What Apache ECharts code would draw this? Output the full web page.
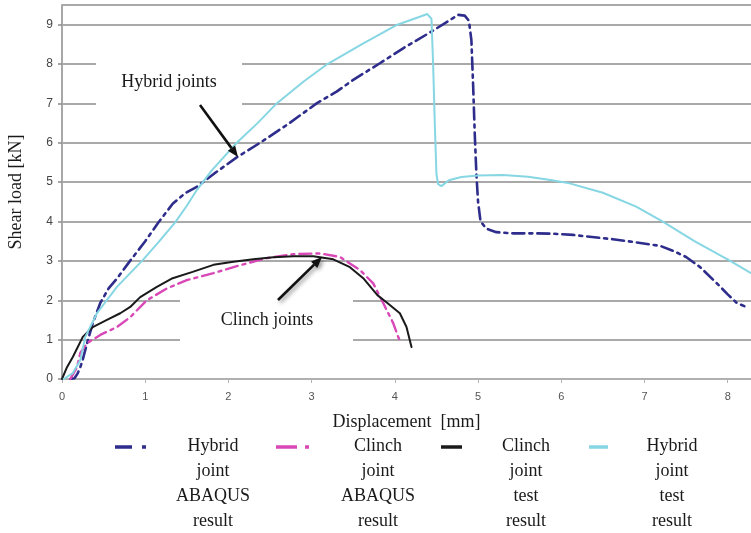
<!DOCTYPE html>
<html>
<head>
<meta charset="utf-8">
<script src="https://cdn.jsdelivr.net/npm/echarts@6/dist/echarts.min.js"></script>
<style>html,body{margin:0;padding:0;background:#fff}#c{width:751px;height:533px}</style>
</head>
<body>
<div id="c"></div>
<script>
// ---- data (displacement mm, shear load kN) ----
const seriesNames = ['Hybrid joint ABAQUS result', 'Clinch joint ABAQUS result', 'Clinch joint test result', 'Hybrid joint test result'];
const legendLines = [['Hybrid','joint','ABAQUS','result'], ['Clinch','joint','ABAQUS','result'], ['Clinch','joint','test','result'], ['Hybrid','joint','test','result']];
const xTicks = [0,1,2,3,4,5,6,7,8];
const yTicks = [0,1,2,3,4,5,6,7,8,9];

const hybridAbaqus = [[0.1,0],[0.15,0.02],[0.19,0.15],[0.22,0.3],[0.25,0.5],[0.3,0.9],[0.37,1.42],[0.46,1.93],[0.56,2.3],[0.66,2.55],[0.8,2.95],[1.0,3.5],[1.16,3.98],[1.33,4.45],[1.48,4.72],[1.62,4.88],[1.85,5.25],[2.1,5.63],[2.38,6.0],[2.7,6.45],[3.06,7.0],[3.3,7.3],[3.5,7.6],[3.82,8.02],[4.1,8.4],[4.42,8.8],[4.65,9.1],[4.76,9.25],[4.84,9.23],[4.89,9.1],[4.92,8.6],[4.94,7.5],[4.96,6.24],[4.98,5.2],[5.0,4.5],[5.03,4.0],[5.1,3.82],[5.22,3.73],[5.42,3.7],[5.66,3.7],[5.9,3.69],[6.14,3.66],[6.4,3.6],[6.62,3.55],[6.9,3.47],[7.19,3.38],[7.35,3.25],[7.5,3.1],[7.67,2.84],[7.87,2.43],[8.0,2.15],[8.11,1.93],[8.2,1.85]];
const clinchAbaqus = [[0.1,0],[0.12,0.05],[0.18,0.3],[0.22,0.66],[0.3,0.91],[0.46,1.12],[0.66,1.32],[0.82,1.57],[1.02,2.0],[1.26,2.3],[1.5,2.51],[1.82,2.69],[2.14,2.89],[2.46,3.07],[2.78,3.17],[3.1,3.19],[3.34,3.1],[3.58,2.77],[3.74,2.43],[3.86,1.93],[3.98,1.42],[4.04,1.07],[4.06,0.98]];
const clinchTest = [[0,0],[0.01,0.05],[0.06,0.3],[0.13,0.56],[0.25,1.07],[0.37,1.32],[0.54,1.5],[0.7,1.67],[0.82,1.83],[0.94,2.08],[1.14,2.34],[1.33,2.56],[1.57,2.72],[1.82,2.9],[2.06,2.98],[2.3,3.04],[2.54,3.09],[2.78,3.12],[3.02,3.12],[3.26,3.04],[3.46,2.84],[3.62,2.56],[3.79,2.13],[3.91,1.93],[4.06,1.67],[4.14,1.32],[4.2,0.81]];
const hybridTest = [[0.02,0],[0.13,0.15],[0.22,0.48],[0.28,1.07],[0.42,1.67],[0.66,2.34],[0.97,3.02],[1.15,3.45],[1.36,3.98],[1.5,4.4],[1.62,4.8],[1.8,5.3],[2.1,6.0],[2.35,6.5],[2.58,7.0],[2.9,7.55],[3.19,8.0],[3.6,8.5],[4.03,9.0],[4.3,9.2],[4.39,9.27],[4.44,9.15],[4.46,8.0],[4.48,6.5],[4.5,5.2],[4.52,4.95],[4.56,4.9],[4.65,5.05],[4.8,5.13],[5.0,5.17],[5.3,5.18],[5.6,5.14],[5.85,5.06],[6.1,4.97],[6.5,4.73],[6.9,4.38],[7.22,4.0],[7.6,3.5],[8.03,3.0],[8.28,2.69]];

// ---- styles ----
const colors = ['#2e2d8c', '#d848b6', '#1a1a1a', '#86d6e3'];
const dashes = [[12,5,3,5], [12,5,3,5], 'solid', 'solid'];
const widths = [2.6, 2.4, 2, 2];
const serif = '"Liberation Serif", "DejaVu Serif", serif';

const chart = echarts.init(document.getElementById('c'), null, {renderer: 'canvas'});
const allData = [hybridAbaqus, clinchAbaqus, clinchTest, hybridTest];

function arrow(x1, y1, x2, y2, shadow) {
  const dx = x2 - x1, dy = y2 - y1, L = Math.hypot(dx, dy);
  const ux = dx / L, uy = dy / L, hl = 11, hw = 4.5;
  const bx = x2 - ux * hl, by = y2 - uy * hl;
  const sh = shadow ? {shadowBlur: 4, shadowColor: 'rgba(0,0,0,0.45)', shadowOffsetX: 2, shadowOffsetY: 2} : {};
  return [
    {type: 'line', z: 20, shape: {x1: x1, y1: y1, x2: bx, y2: by}, style: Object.assign({stroke: '#111', lineWidth: 2.6}, sh)},
    {type: 'polygon', z: 20, shape: {points: [[x2, y2], [bx - uy * hw, by + ux * hw], [bx + uy * hw, by - ux * hw]]}, style: Object.assign({fill: '#111'}, sh)}
  ];
}

const legendX = [[115,148,213],[276,310,378],[441,462,526],[589,608,672]];
const legendDash = [[17,10,4,100],[21,8,4,100],null,null];
const legendGraphics = [];
legendLines.forEach((lines, i) => {
  legendGraphics.push({type: 'line', z: 20, shape: {x1: legendX[i][0], y1: 447, x2: legendX[i][1], y2: 447},
    style: {stroke: colors[i], lineWidth: 3.5, lineDash: legendDash[i]}});
  legendGraphics.push({type: 'text', z: 20, x: legendX[i][2], y: 434,
    style: {text: lines.join('\n'), fontFamily: serif, fontSize: 18, lineHeight: 25, fill: '#1a1a1a', textAlign: 'center', textVerticalAlign: 'top'}});
});

chart.setOption({
  animation: false,
  backgroundColor: '#fff',
  grid: {left: 62, right: 0, top: 5, bottom: 154, containLabel: false, outerBoundsMode: 'none'},
  xAxis: {
    type: 'value', min: 0, max: 8.28, interval: 1,
    name: 'Displacement  [mm]', nameLocation: 'middle', nameGap: 34,
    nameTextStyle: {fontFamily: serif, fontSize: 18, color: '#1a1a1a'},
    axisLine: {show: true, lineStyle: {color: '#b3b3b3', width: 1.5}},
    axisTick: {show: true, length: 4, lineStyle: {color: '#b3b3b3'}},
    axisLabel: {fontFamily: '"Liberation Sans", Arial, sans-serif', fontSize: 11, color: '#555', margin: 12, showMaxLabel: false,
      formatter: v => xTicks.includes(v) ? String(v) : ''},
    splitLine: {show: false}
  },
  yAxis: {
    type: 'value', min: 0, max: 9.5, interval: 1,
    name: 'Shear load [kN]', nameLocation: 'middle', nameGap: 37,
    nameTextStyle: {fontFamily: serif, fontSize: 18, color: '#1a1a1a'},
    axisLine: {show: true, lineStyle: {color: '#a8a8a8', width: 2}},
    axisTick: {show: true, length: 4, lineStyle: {color: '#8a8a8a', width: 1.5}},
    axisLabel: {fontFamily: '"Liberation Sans", Arial, sans-serif', fontSize: 12, color: '#444', margin: 9, showMaxLabel: false,
      formatter: v => yTicks.includes(v) ? String(v) : ''},
    splitLine: {show: true, lineStyle: {color: '#8c8c8c', width: 1.5}}
  },
  series: allData.map((d, i) => ({
    name: seriesNames[i], type: 'line', data: d, showSymbol: false, symbol: 'none', smooth: false,
    z: 5,
    lineStyle: {color: colors[i], width: widths[i], type: dashes[i], cap: 'round'}
  })),
  graphic: [
    {type: 'rect', z: 1, shape: {x: 96, y: 52, width: 146, height: 60}, style: {fill: '#fff'}},
    {type: 'rect', z: 1, shape: {x: 180, y: 290, width: 173, height: 60}, style: {fill: '#fff'}},
    {type: 'text', z: 20, x: 169, y: 82, style: {text: 'Hybrid joints', fontFamily: serif, fontSize: 18, fill: '#1a1a1a', textAlign: 'center', textVerticalAlign: 'middle'}},
    {type: 'text', z: 20, x: 267, y: 320, style: {text: 'Clinch joints', fontFamily: serif, fontSize: 18, fill: '#1a1a1a', textAlign: 'center', textVerticalAlign: 'middle'}},
    ...arrow(200, 105, 238, 157, false),
    ...arrow(278, 300, 322, 257, true),
    ...legendGraphics
  ]
});
</script>
</body>
</html>
